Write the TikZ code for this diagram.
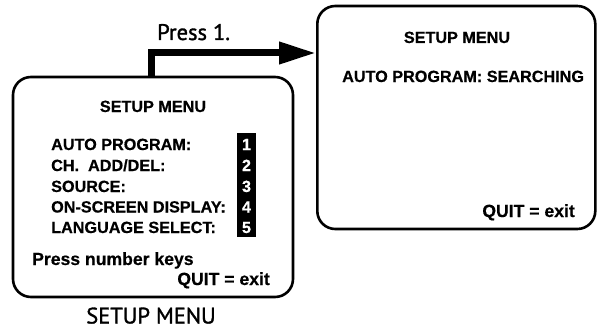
\documentclass[tikz,border=0pt]{standalone}
\usepackage{fontspec}
\setmainfont{Liberation Sans}[BoldFeatures={FakeBold=0.5}]
\newfontfamily\labelfont{PT Sans}[FakeBold=1.3]
\usetikzlibrary{arrows.meta,calc}
\tikzset{
  screen/.style={draw, line width=2.6pt, rounded corners=18pt, inner sep=0pt, fill=white},
  menutxt/.style={font=\bfseries\fontsize{16.2}{18}\selectfont, inner sep=0pt},
  bigtxt/.style={font=\bfseries\fontsize{17.6}{19}\selectfont, inner sep=0pt},
  keytxt/.style={font=\bfseries\fontsize{16.2}{18}\selectfont, text=white, inner sep=0pt},
  captxt/.style={font=\labelfont\fontsize{22.5}{24}\selectfont, inner sep=0pt},
  flow/.style={line width=7pt, -{Triangle[length=37pt,width=21pt]}}
}
\begin{document}
\begin{tikzpicture}[x=1pt,y=-1pt]
\useasboundingbox (0,0) rectangle (597,329);
% screens
\node[screen, minimum width=280pt, minimum height=220pt] (left) at (153,187) {};
\node[screen, minimum width=278pt, minimum height=223pt] (right) at (456.3,117.5) {};
% left screen contents
\node[menutxt, anchor=base] (ltitle) at (153,112) {SETUP MENU};
\node[fill=black, inner sep=0pt, minimum width=19pt, minimum height=104pt] (keys) at (246.5,185) {};
\node[menutxt, anchor=base west] (m1) at (51,150) {AUTO PROGRAM:};
\node[menutxt, anchor=base west] (m2) at (51,171) {CH.\ \ ADD/DEL:};
\node[menutxt, anchor=base west] (m3) at (51,192) {SOURCE:};
\node[menutxt, anchor=base west] (m4) at (51,212.5) {ON-SCREEN DISPLAY:};
\node[menutxt, anchor=base west] (m5) at (51,233) {LANGUAGE SELECT:};
\node[keytxt, anchor=base] (k1) at (246.5,150) {1};
\node[keytxt, anchor=base] (k2) at (246.5,171) {2};
\node[keytxt, anchor=base] (k3) at (246.5,192) {3};
\node[keytxt, anchor=base] (k4) at (246.5,212.5) {4};
\node[keytxt, anchor=base] (k5) at (246.5,233) {5};
\node[bigtxt, anchor=base west] (press) at (32,265) {Press number keys};
\node[bigtxt, anchor=base east] (lquit) at (270,285) {QUIT = exit};
% right screen contents
\node[menutxt, anchor=base] (rtitle) at (457,43) {SETUP MENU};
\node[menutxt, anchor=base west] (search) at (342,82) {AUTO PROGRAM: SEARCHING};
\node[bigtxt, anchor=base east] (rquit) at (575,217) {QUIT = exit};
% captions
\node[captxt, anchor=base] (cap) at (151,323.5) {SETUP MENU};
\node[captxt, anchor=base west] (press1) at (157,40) {Press 1.};
% connector
\coordinate (bend) at (151,53);
\draw[flow] (left.north -| bend) -- (bend) -- (right.west |- bend);
\end{tikzpicture}
\end{document}
